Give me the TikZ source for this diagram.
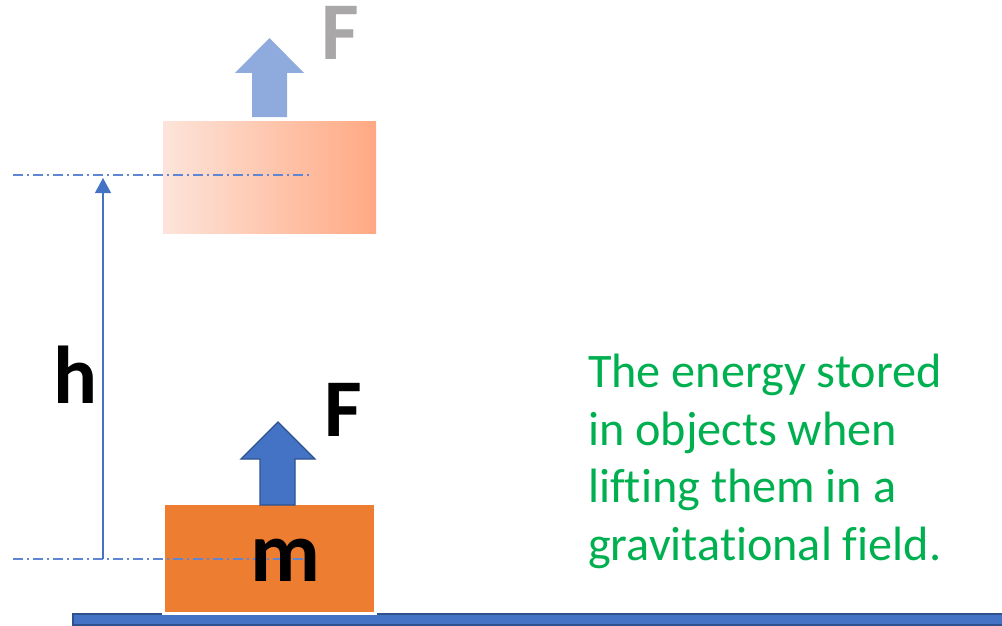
\documentclass[tikz,border=0pt]{standalone}
\usepackage{fontspec}
\setmainfont[Ligatures={NoCommon}]{Carlito}
\usetikzlibrary{arrows.meta}
\definecolor{myblue}{HTML}{4472C4}
\definecolor{myblueedge}{HTML}{2F528F}
\definecolor{lightblue}{HTML}{8FAADC}
\definecolor{dashblue}{HTML}{5E86D2}
\definecolor{myorange}{HTML}{ED7D31}
\definecolor{paleleft}{HTML}{FDE4DA}
\definecolor{paleright}{HTML}{FFA983}
\definecolor{mygreen}{HTML}{00B050}
\definecolor{mygray}{HTML}{A9A7A7}
\tikzset{
  refline/.style={dashblue, line width=1.4pt, dash pattern=on 10pt off 4pt on 2pt off 4pt},
  biglabel/.style={font=\fontsize{82}{90}\selectfont\bfseries, inner sep=0pt, anchor=base},
}
\begin{document}
\begin{tikzpicture}[x=1pt,y=-1pt]
\useasboundingbox (0,0) rectangle (1002,626);
% ground
\draw[myblueedge, line width=2pt, fill=myblue] (73,613.5) rectangle (1010,624.5);
% upper (lifted) box
\shade[left color=paleleft, right color=paleright] (163,121) rectangle (376,233);
\coordinate (topbox) at (269.5,121);
% lower box
\draw[white, line width=3pt, fill=myorange] (163.5,503.5) rectangle (375.5,613.5);
\coordinate (botbox) at (277.5,505);
% upper force arrow
\fill[lightblue] (252,117) -- (252,73) -- (235,73) -- (269.5,38) -- (304,73) -- (287,73) -- (287,117) -- cycle;
% lower force arrow
\draw[myblueedge, line width=1.3pt, fill=myblue] (260,505) -- (260,459) -- (241,459) -- (278,422) -- (315,459) -- (295,459) -- (295,505) -- cycle;
% reference lines
\coordinate (u1) at (13,175);
\coordinate (u2) at (309,175);
\coordinate (l1) at (13,559);
\coordinate (l2) at (305,559);
\draw[refline] (u1) -- (u2);
\draw[refline] (l1) -- (l2);
% height arrow
\coordinate (hb) at (103,559);
\coordinate (ht) at (103,178);
\draw[myblue, line width=1.2pt, -{Triangle[width=16pt,length=15pt]}] (hb) -- (ht);
% labels
\node[biglabel, text=mygray] (F1) at (340,60) {F};
\node[biglabel, text=black] (F2) at (343,436) {F};
\node[biglabel, text=black] (h) at (75.5,403) {h};
\node[biglabel, text=black, font=\fontsize{86}{94}\selectfont\bfseries] (m) at (285,581) {m};
\node[text=mygreen, align=left, anchor=north west, inner sep=0pt,
      font=\fontsize{48.2}{57.5}\selectfont] (txt) at (588,354)
  {The energy stored\\in objects when\\lifting them in a\\gravitational field.};
\end{tikzpicture}
\end{document}
